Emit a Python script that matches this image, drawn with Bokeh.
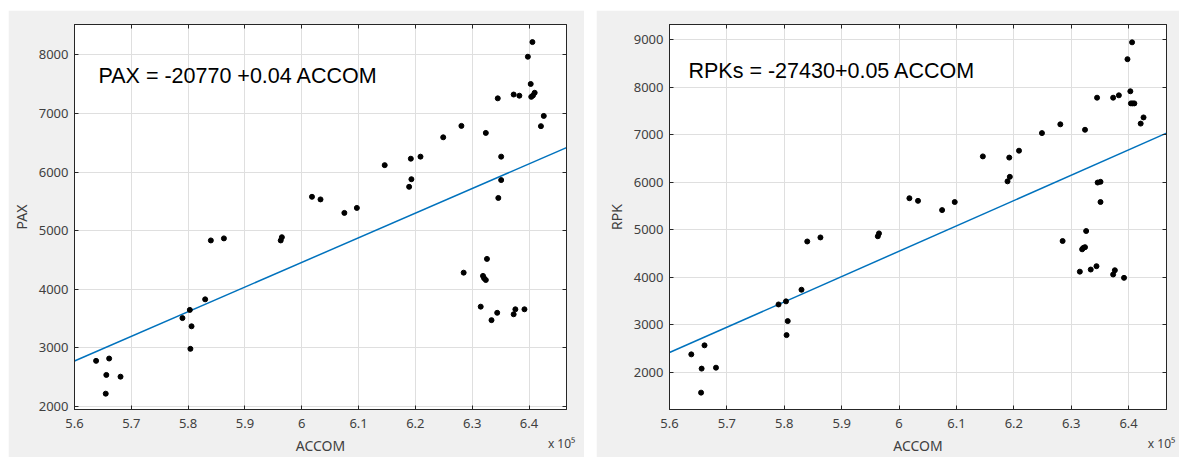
from bokeh.plotting import figure
from bokeh.models import LinearAxis, FixedTicker, Label, Range1d
from bokeh.layouts import row
from bokeh.embed import file_html
from bokeh.resources import INLINE

# ---- data ----
accom = [563800, 566100, 565600, 568100, 565500, 579000, 580300, 580600, 580400, 583000,
         584000, 586300, 596300, 596500, 601800, 603300, 607500, 609700, 614600, 619200,
         620900, 619300, 618900, 624900, 628100, 632400, 635100, 635100, 634600, 634500,
         637300, 638300, 639800, 640600, 640300, 640400, 641000, 640700, 642600, 642100,
         628500, 632600, 631900, 632400, 632100, 631500, 633400, 634400, 637300, 637600,
         639200]
pax = [2780, 2820, 2540, 2510, 2220, 3510, 3650, 3370, 2985, 3830,
       4835, 4870, 4835, 4890, 5580, 5535, 5305, 5390, 6120, 6230,
       6265, 5880, 5750, 6595, 6790, 6670, 6265, 5865, 5560, 7260,
       7325, 7305, 7970, 8220, 7505, 7285, 7355, 7310, 6960, 6785,
       4285, 4520, 4230, 4160, 4190, 3705, 3475, 3600, 3575, 3660,
       3660]
rpk = [2380, 2570, 2080, 2100, 1575, 3430, 3495, 3080, 2785, 3740,
       4755, 4840, 4865, 4925, 5665, 5610, 5415, 5585, 6545, 6520,
       6665, 6115, 6020, 7035, 7220, 7105, 6010, 5585, 5995, 7780,
       7780, 7830, 8590, 8945, 7915, 7660, 7660, 7660, 7365, 7235,
       4765, 4975, 4590, 4635, 4620, 4120, 4165, 4235, 4060, 4150,
       3990]

pax_fit = (-20770, 0.04205)
rpk_fit = (-27430, 0.0533)

x_ticks = [560000, 570000, 580000, 590000, 600000, 610000, 620000, 630000, 640000]
x_tick_labels = ["5.6", "5.7", "5.8", "5.9", "6", "6.1", "6.2", "6.3", "6.4"]
pax_ticks = [2000, 3000, 4000, 5000, 6000, 7000, 8000]
rpk_ticks = [2000, 3000, 4000, 5000, 6000, 7000, 8000, 9000]
x_exponent_label = "x 10\u2075"

x_lim = (560000, 646600)
pax_lim = (1950, 8520)
rpk_lim = (1220, 9320)

AX = "#262626"
LBL = "#404040"
FONT = "Noto Sans"
H = 447


def make(yvals, ylabel, ylim, yticks, fit, eq_text, width, bl, br, eq_pos, margin, ylab_standoff):
    p = figure(width=width, height=H, x_range=Range1d(*x_lim), y_range=Range1d(*ylim),
               output_backend="svg", toolbar_location=None,
               min_border_left=bl, min_border_right=br, min_border_top=14, min_border_bottom=43,
               border_fill_color="#f0f0f0", background_fill_color="white",
               outline_line_color=AX, outline_line_width=1)
    p.margin = margin

    xa = p.xaxis[0]
    xa.ticker = FixedTicker(ticks=x_ticks)
    xa.major_label_overrides = {t: l for t, l in zip(x_ticks, x_tick_labels)}
    ya = p.yaxis[0]
    ya.ticker = FixedTicker(ticks=yticks)
    for ax in (xa, ya):
        ax.major_tick_in = 4
        ax.major_tick_out = 0
        ax.minor_tick_line_color = None
        ax.axis_line_color = AX
        ax.major_tick_line_color = AX
        ax.major_label_text_font = FONT
        ax.major_label_text_font_size = "13px"
        ax.major_label_text_color = LBL
        ax.axis_label_text_font = FONT
        ax.axis_label_text_font_size = "14px"
        ax.axis_label_text_font_style = "normal"
        ax.axis_label_text_color = LBL
    xa.axis_label = "ACCOM"
    xa.major_label_standoff = 9
    xa.axis_label_standoff = 5
    ya.axis_label = ylabel
    ya.major_label_standoff = 6
    ya.axis_label_standoff = ylab_standoff

    for loc, ticks in (("above", x_ticks), ("right", yticks)):
        ax = LinearAxis(ticker=FixedTicker(ticks=ticks), major_label_text_font_size="0px",
                        major_label_text_color=None, major_label_standoff=0,
                        major_tick_in=4, major_tick_out=0, minor_tick_line_color=None,
                        axis_line_color=AX, major_tick_line_color=AX)
        p.add_layout(ax, loc)

    # exponent note under the right end of the x axis, on the row of the axis title
    exp_pos = x_lim[1] - 0.01 * (x_lim[1] - x_lim[0])
    ex = LinearAxis(ticker=FixedTicker(ticks=[exp_pos]),
                    major_label_overrides={exp_pos: x_exponent_label},
                    major_label_text_font=FONT, major_label_text_font_size="12px",
                    major_label_text_color=LBL, major_label_standoff=-29,
                    major_tick_line_color=None, minor_tick_line_color=None,
                    axis_line_color=None)
    p.add_layout(ex, "below")

    p.xgrid.ticker = FixedTicker(ticks=x_ticks)
    p.ygrid.ticker = FixedTicker(ticks=yticks)
    p.grid.grid_line_color = "#dfdfdf"
    p.grid.grid_line_width = 1

    lx = list(x_lim)
    ly = [fit[0] + fit[1] * v for v in lx]
    p.line(lx, ly, line_color="#0072BD", line_width=1.5)
    p.scatter(accom, yvals, size=5, color="black")

    p.add_layout(Label(x=eq_pos[0], y=eq_pos[1], x_units="screen", y_units="screen",
                       text=eq_text, text_font="Liberation Sans", text_font_size="21.5px",
                       text_color="black", text_baseline="alphabetic"))
    return p


p1 = make(pax, "PAX", pax_lim, pax_ticks, pax_fit, "PAX = -20770 +0.04 ACCOM",
          576, 61, 18, (24, 334), (10, 0, 0, 8), 5)
p2 = make(rpk, "RPK", rpk_lim, rpk_ticks, rpk_fit, "RPKs = -27430+0.05 ACCOM",
          583, 73, 13, (19, 339), (10, 0, 0, 12), 5)

layout = row(p1, p2)
open("out.html", "w").write(file_html(layout, INLINE))
